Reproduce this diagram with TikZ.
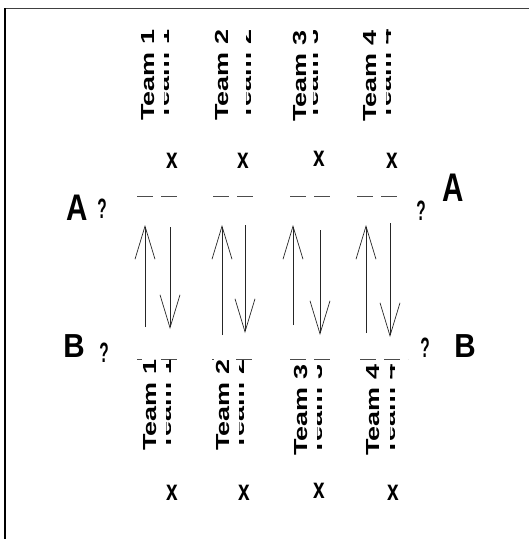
\documentclass[tikz,border=0pt]{standalone}
\usepackage{fontspec}
\setmainfont{Liberation Sans}
\usetikzlibrary{arrows.meta}
\begin{document}
\begin{tikzpicture}[x=1pt,y=-1pt,
  team/.style={anchor=south east, inner sep=2pt, font=\bfseries\fontsize{27}{27}\selectfont},
  teamfill/.style={team, fill=white},
  xmark/.style={inner sep=0pt, font=\bfseries\fontsize{29}{29}\selectfont},
  bigletter/.style={inner sep=0pt, font=\bfseries\fontsize{37}{37}\selectfont},
  qmark/.style={inner sep=0pt, font=\bfseries\fontsize{28}{28}\selectfont},
  dashline/.style={draw=black!70, line width=1pt, dash pattern=on 16pt off 8pt},
  flow/.style={draw=black!85, line width=0.7pt, -{Straight Barb[length=33pt,width=20pt]}},
  frameline/.style={line width=1.6pt}
]
\useasboundingbox (0,0) rectangle (529,539);
% frame
\coordinate (fc) at (5,8.3);
\coordinate (fr) at (529,8.3);
\coordinate (fb) at (5,539);
\draw[frameline, draw=black!75] (fc) -- (fr);
\draw[frameline, draw=black] (fc) -- (fb);

% dashed lines A (top) and B (bottom)
\foreach \i/\l/\r in {1/137/177, 2/213/257, 3/290/332, 4/357/400} {
  \coordinate (da\i) at (\l,196); \coordinate (db\i) at (\r,196);
  \draw[dashline] (da\i) -- (db\i);
}
\foreach \i/\l/\r in {1/137/180, 2/212/257, 3/290/332, 4/360/408} {
  \coordinate (dc\i) at (\l,359.5); \coordinate (dd\i) at (\r,359.5);
  \draw[dashline] (dc\i) -- (dd\i);
}

% top team labels
\node[teamfill] (tt1) at (157,123) {\rotatebox{90}{\scalebox{1}[0.7]{Team 1}}};
\node[teamfill] (tt2) at (231,123) {\rotatebox{90}{\scalebox{1}[0.7]{Team 2}}};
\node[teamfill] (tt3) at (309,124) {\rotatebox{90}{\scalebox{1}[0.7]{Team 3}}};
\node[teamfill] (tt4) at (379,124) {\rotatebox{90}{\scalebox{1}[0.7]{Team 4}}};
% clipped ghost copies (top)
\foreach \i/\s in {1/164, 2/246, 3/313, 4/386} {
  \begin{scope}
    \clip (\s,20) rectangle ({\s+4},130);
    \node[team] (tg\i) at ({\s+8},123) {\rotatebox{90}{\scalebox{1}[0.7]{Team \i}}};
  \end{scope}
}

% bottom team labels
\node[teamfill] (bt1) at (159,453) {\rotatebox{90}{\scalebox{1}[0.7]{Team 1}}};
\node[teamfill] (bt2) at (232,453) {\rotatebox{90}{\scalebox{1}[0.7]{Team 2}}};
\node[teamfill] (bt3) at (310,458) {\rotatebox{90}{\scalebox{1}[0.7]{Team 3}}};
\node[teamfill] (bt4) at (382,458) {\rotatebox{90}{\scalebox{1}[0.7]{Team 4}}};
\foreach \i/\s/\y in {1/166/453, 2/239/453, 3/317/458, 4/390/458} {
  \begin{scope}
    \clip (\s,350) rectangle ({\s+4},470);
    \node[team] (bg\i) at ({\s+8},\y) {\rotatebox{90}{\scalebox{1}[0.7]{Team \i}}};
  \end{scope}
}

% x marks
\node[xmark] (xt1) at (172,161) {\scalebox{0.72}[1]{x}};
\node[xmark] (xt2) at (243,161) {\scalebox{0.72}[1]{x}};
\node[xmark] (xt3) at (319,159) {\scalebox{0.72}[1]{x}};
\node[xmark] (xt4) at (392,161) {\scalebox{0.72}[1]{x}};
\node[xmark] (xb1) at (172,493) {\scalebox{0.72}[1]{x}};
\node[xmark] (xb2) at (244,493) {\scalebox{0.72}[1]{x}};
\node[xmark] (xb3) at (319,491) {\scalebox{0.72}[1]{x}};
\node[xmark] (xb4) at (393,493) {\scalebox{0.72}[1]{x}};

% A and B labels
\node[bigletter] (al) at (77,208) {\scalebox{0.8}[1]{A}};
\node[bigletter] (ar) at (453,188) {\scalebox{0.8}[1.08]{A}};
\node[bigletter] (bl) at (74,346) {\scalebox{0.8}[0.9]{B}};
\node[bigletter] (br) at (465,346) {\scalebox{0.8}[0.9]{B}};
\node[qmark] (qal) at (102,209) {\scalebox{0.55}[1]{?}};
\node[qmark] (qar) at (421,211) {\scalebox{0.55}[1]{?}};
\node[qmark] (qbl) at (104,353) {\scalebox{0.55}[1]{?}};
\node[qmark] (qbr) at (425,348) {\scalebox{0.55}[1]{?}};

% arrows up (B -> A) and down (A -> B)
\foreach \i/\x/\b in {1/145/327, 2/222/335, 3/293/325, 4/366/333} {
  \coordinate (us\i) at (\x,\b); \coordinate (ue\i) at (\x,225);
  \draw[flow] (us\i) -- (ue\i);
}
\foreach \i/\x/\t/\b in {1/170/227/329, 2/245/225/333, 3/320/230/335, 4/390/223/337} {
  \coordinate (ds\i) at (\x,\t); \coordinate (de\i) at (\x,\b);
  \draw[flow] (ds\i) -- (de\i);
}
\end{tikzpicture}
\end{document}
